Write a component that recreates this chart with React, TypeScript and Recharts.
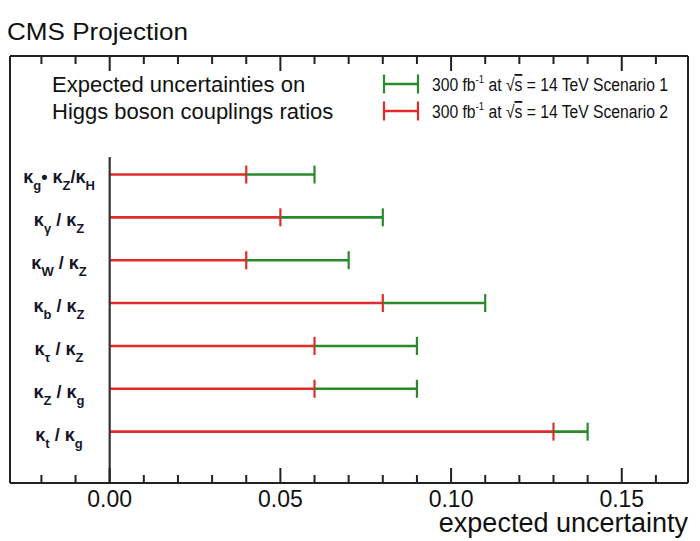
import React from 'react';
import { ComposedChart, Bar, XAxis, YAxis, ReferenceLine } from 'recharts';

// ---- data ----
const COUPLING_RATIOS = ['κ_g• κ_Z/κ_H', 'κ_γ / κ_Z', 'κ_W / κ_Z', 'κ_b / κ_Z', 'κ_τ / κ_Z', 'κ_Z / κ_g', 'κ_t / κ_g'];
const SCENARIO1 = [0.06, 0.08, 0.07, 0.11, 0.09, 0.09, 0.14];
const SCENARIO2 = [0.04, 0.05, 0.04, 0.08, 0.06, 0.06, 0.13];
const X_TICKS = [-0.02, -0.01, 0, 0.01, 0.02, 0.03, 0.04, 0.05, 0.06, 0.07, 0.08, 0.09, 0.1, 0.11, 0.12, 0.13, 0.14, 0.15, 0.16];
const X_MAJOR = [0, 0.05, 0.1, 0.15];
const X_DOMAIN: [number, number] = [-0.0292, 0.1694];
const SERIES_NAMES = ['300 fb', ' at ', ' = 14 TeV Scenario '];

const RED = '#e12a2a';
const GREEN = '#2a8a2a';
const FONT = '"Liberation Sans", Arial, Helvetica, sans-serif';
const LEGEND_CLEARANCE = 101; // px kept free above the zero line for the legend block

const rows = COUPLING_RATIOS.map((label, i) => ({
  label,
  s2: SCENARIO2[i],
  extra: SCENARIO1[i] - SCENARIO2[i],
}));

const isMajor = (v: number) => X_MAJOR.some((m) => Math.abs(m - v) < 1e-9);

const makeShape = (color: string) => (props: any) => {
  const { x, y, width, height } = props;
  const cy = y + height / 2;
  const x2 = x + width;
  return (
    <g>
      <line x1={x} y1={cy} x2={x2} y2={cy} stroke={color} strokeWidth={2.6} />
      <line x1={x2} y1={cy - 9} x2={x2} y2={cy + 9} stroke={color} strokeWidth={2.2} />
    </g>
  );
};

const ZeroLine = (props: any) => {
  const { x1, y1, y2 } = props;
  const top = Math.min(y1, y2) + LEGEND_CLEARANCE;
  const bottom = Math.max(y1, y2);
  return <line x1={x1} x2={x1} y1={top} y2={bottom} stroke="#333" strokeWidth={2.2} />;
};

const BottomTick = (props: any) => {
  const { x, y, payload } = props;
  const major = isMajor(payload.value);
  return (
    <g>
      <line x1={x} x2={x} y1={y} y2={y - (major ? 15 : 8)} stroke="#222" strokeWidth={2} />
      {major && (
        <text x={x} y={y + 24} textAnchor="middle" fontSize={23} fontFamily={FONT} fill="#111">
          {payload.value.toFixed(2)}
        </text>
      )}
    </g>
  );
};

const TopTick = (props: any) => {
  const { x, y, payload } = props;
  const major = isMajor(payload.value);
  return <line x1={x} x2={x} y1={y} y2={y + (major ? 15 : 8)} stroke="#222" strokeWidth={2} />;
};

const LabelTick = (props: any) => {
  const { x, y, payload } = props;
  const parts = String(payload.value).split(/_(.)/);
  return (
    <text x={x} y={y + 9} textAnchor="middle" fontSize={18} fontWeight="bold" fontFamily={FONT} fill="#15152a">
      {parts.map((p, i) =>
        i % 2 === 1 ? (
          <tspan key={i} fontSize={13} dy={7}>{p}</tspan>
        ) : (
          <tspan key={i} dy={i === 0 ? 0 : -7}>{p}</tspan>
        )
      )}
    </text>
  );
};

const XTitle = (props: any) => {
  const { viewBox } = props;
  return (
    <text x={viewBox.x + viewBox.width} y={viewBox.y + 49} textAnchor="end" fontSize={27} fontFamily={FONT} fill="#111">
      expected uncertainty
    </text>
  );
};

const LegendEntry = ({ y, color, n }: { y: number; color: string; n: number }) => (
  <g>
    <line x1={384} x2={418} y1={y} y2={y} stroke={color} strokeWidth={2.6} />
    <line x1={384} x2={384} y1={y - 9.5} y2={y + 9.5} stroke={color} strokeWidth={2.2} />
    <line x1={418} x2={418} y1={y - 9.5} y2={y + 9.5} stroke={color} strokeWidth={2.2} />
    <text x={432} y={y + 7} fontSize={18} fontFamily={FONT} fill="#111" textLength={236} lengthAdjust="spacingAndGlyphs">
      {SERIES_NAMES[0]}
      <tspan fontSize={11} dy={-8}>-1</tspan>
      <tspan dy={8}>{SERIES_NAMES[1]}√</tspan>
      <tspan textDecoration="overline">s</tspan>
      {SERIES_NAMES[2] + n}
    </text>
  </g>
);

export default function App() {
  return (
    <div style={{ position: 'absolute', left: 0, top: 0, width: 700, height: 541, background: '#fff' }}>
      <ComposedChart
        width={700}
        height={541}
        layout="vertical"
        data={rows}
        margin={{ top: 55, right: 11, bottom: 57, left: 10 }}
        barCategoryGap={4}
      >
        <XAxis
          type="number"
          domain={X_DOMAIN}
          allowDataOverflow
          ticks={X_TICKS}
          interval={0}
          height={1}
          tickSize={0}
          tickMargin={0}
          tickLine={false}
          axisLine={{ stroke: '#222', strokeWidth: 2 }}
          tick={<BottomTick />}
          label={<XTitle />}
        />
        <XAxis
          xAxisId="top"
          orientation="top"
          type="number"
          domain={X_DOMAIN}
          allowDataOverflow
          ticks={X_TICKS}
          interval={0}
          height={1}
          tickSize={0}
          tickMargin={0}
          tickLine={false}
          axisLine={{ stroke: '#222', strokeWidth: 2 }}
          tick={<TopTick />}
        />
        <YAxis
          type="category"
          dataKey="label"
          width={1}
          mirror
          tickSize={0}
          tickMargin={49}
          tickLine={false}
          interval={0}
          padding={{ top: 97, bottom: 30 }}
          axisLine={{ stroke: '#222', strokeWidth: 2 }}
          tick={<LabelTick />}
        />
        <YAxis
          yAxisId="frame"
          orientation="right"
          type="number"
          width={1}
          tick={false}
          tickLine={false}
          axisLine={{ stroke: '#222', strokeWidth: 2 }}
        />
        <ReferenceLine x={0} shape={<ZeroLine />} ifOverflow="visible" />
        <Bar dataKey="s2" stackId="u" name="Scenario 2" isAnimationActive={false} shape={makeShape(RED)} />
        <Bar dataKey="extra" stackId="u" name="Scenario 1" isAnimationActive={false} shape={makeShape(GREEN)} />
      </ComposedChart>
      <svg width={700} height={130} style={{ position: 'absolute', left: 0, top: 0, pointerEvents: 'none' }}>
        <text x={7} y={40} fontSize={24} fontFamily={FONT} fill="#111" textLength={181} lengthAdjust="spacingAndGlyphs">
          CMS Projection
        </text>
        <text x={52} y={92} fontSize={22} fontFamily={FONT} fill="#111">Expected uncertainties on</text>
        <text x={52} y={119} fontSize={22} fontFamily={FONT} fill="#111">Higgs boson couplings ratios</text>
        <LegendEntry y={84} color={GREEN} n={1} />
        <LegendEntry y={111} color={RED} n={2} />
      </svg>
    </div>
  );
}
